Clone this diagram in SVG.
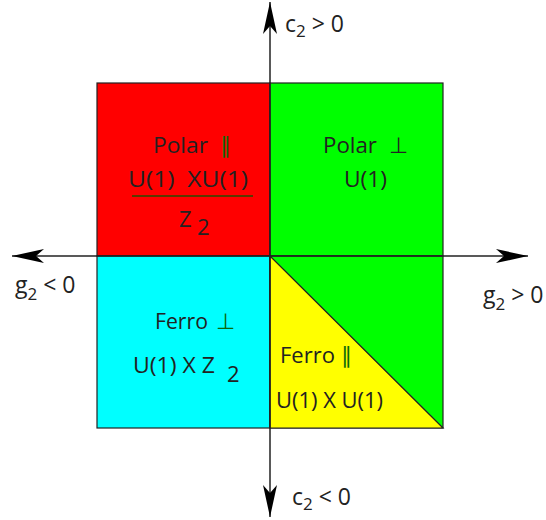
<svg xmlns="http://www.w3.org/2000/svg" width="546" height="520" viewBox="0 0 546 520">
<style>
text{font-family:"Open Sans","Noto Sans","DejaVu Sans",sans-serif;font-size:22px;fill:#222}
.lab{font-size:23px}
.s{font-size:17px}
.g{fill:#0a6a0a}
.q{stroke:#222;stroke-width:1.2}
.ax{stroke:#222;stroke-width:1.5;fill:none}
</style>
<defs>
<marker id="ah" viewBox="0 0 32 14" refX="32" refY="7" markerWidth="32" markerHeight="14" markerUnits="userSpaceOnUse" orient="auto">
<path d="M0,0 L32,7 L0,14 L8,7 Z" fill="#000"/>
</marker>
</defs>
<g id="quadrant-polar-par">
<rect x="97" y="83" width="173" height="173" fill="#ff0000" class="q"/>
<text x="153" y="153" textLength="55" lengthAdjust="spacingAndGlyphs">Polar</text>
<text x="220" y="153" class="g" font-size="20">∥</text>
<text x="128" y="187" textLength="120" lengthAdjust="spacingAndGlyphs" xml:space="preserve" style="white-space:pre">U(1)  XU(1)</text>
<line x1="132" y1="196" x2="253" y2="196" stroke="#5a3a00" stroke-width="2"/>
<text x="179" y="227" font-size="23">Z</text>
<text x="197" y="235">2</text>
</g>
<g id="quadrant-polar-perp">
<rect x="270" y="83" width="173" height="173" fill="#00ff00" class="q"/>
<text x="323" y="153" textLength="54" lengthAdjust="spacingAndGlyphs">Polar</text>
<text x="389" y="153">⊥</text>
<text x="344" y="187" textLength="43" lengthAdjust="spacingAndGlyphs">U(1)</text>
</g>
<g id="quadrant-ferro-perp">
<rect x="97" y="256" width="173" height="172" fill="#00ffff" class="q"/>
<text x="155" y="329" textLength="53" lengthAdjust="spacingAndGlyphs">Ferro</text>
<text x="216" y="329" class="g">⊥</text>
<text x="133" y="373" textLength="82" lengthAdjust="spacingAndGlyphs">U(1) X Z</text>
<text x="227" y="382">2</text>
</g>
<g id="quadrant-ferro-par">
<rect x="270" y="256" width="173" height="172" fill="#00ff00" class="q"/>
<path d="M270,256 L443,428 L270,428 Z" fill="#ffff00" stroke="#222" stroke-width="1.2"/>
<text x="280" y="363" textLength="55" lengthAdjust="spacingAndGlyphs">Ferro</text>
<text x="341" y="363" class="g" font-size="20">∥</text>
<text x="276" y="408" textLength="107" lengthAdjust="spacingAndGlyphs">U(1) X U(1)</text>
</g>
<g id="connectors">
<line x1="270" y1="256" x2="12" y2="256" class="ax" marker-end="url(#ah)"/>
<line x1="270" y1="256" x2="528" y2="256" class="ax" marker-end="url(#ah)"/>
<line x1="270" y1="256" x2="270" y2="2" class="ax" marker-end="url(#ah)"/>
<line x1="270" y1="256" x2="270" y2="517" class="ax" marker-end="url(#ah)"/>
</g>
<g id="labels">
<text class="lab" x="285" y="32">c<tspan class="s" dy="5">2</tspan><tspan dy="-5"> &gt; 0</tspan></text>
<text class="lab" x="292" y="505">c<tspan class="s" dy="5">2</tspan><tspan dy="-5"> &lt; 0</tspan></text>
<text class="lab" x="15" y="293">g<tspan class="s" dy="7">2</tspan><tspan dy="-7"> &lt; 0</tspan></text>
<text class="lab" x="483" y="303">g<tspan class="s" dy="7">2</tspan><tspan dy="-7"> &gt; 0</tspan></text>
</g>
</svg>
